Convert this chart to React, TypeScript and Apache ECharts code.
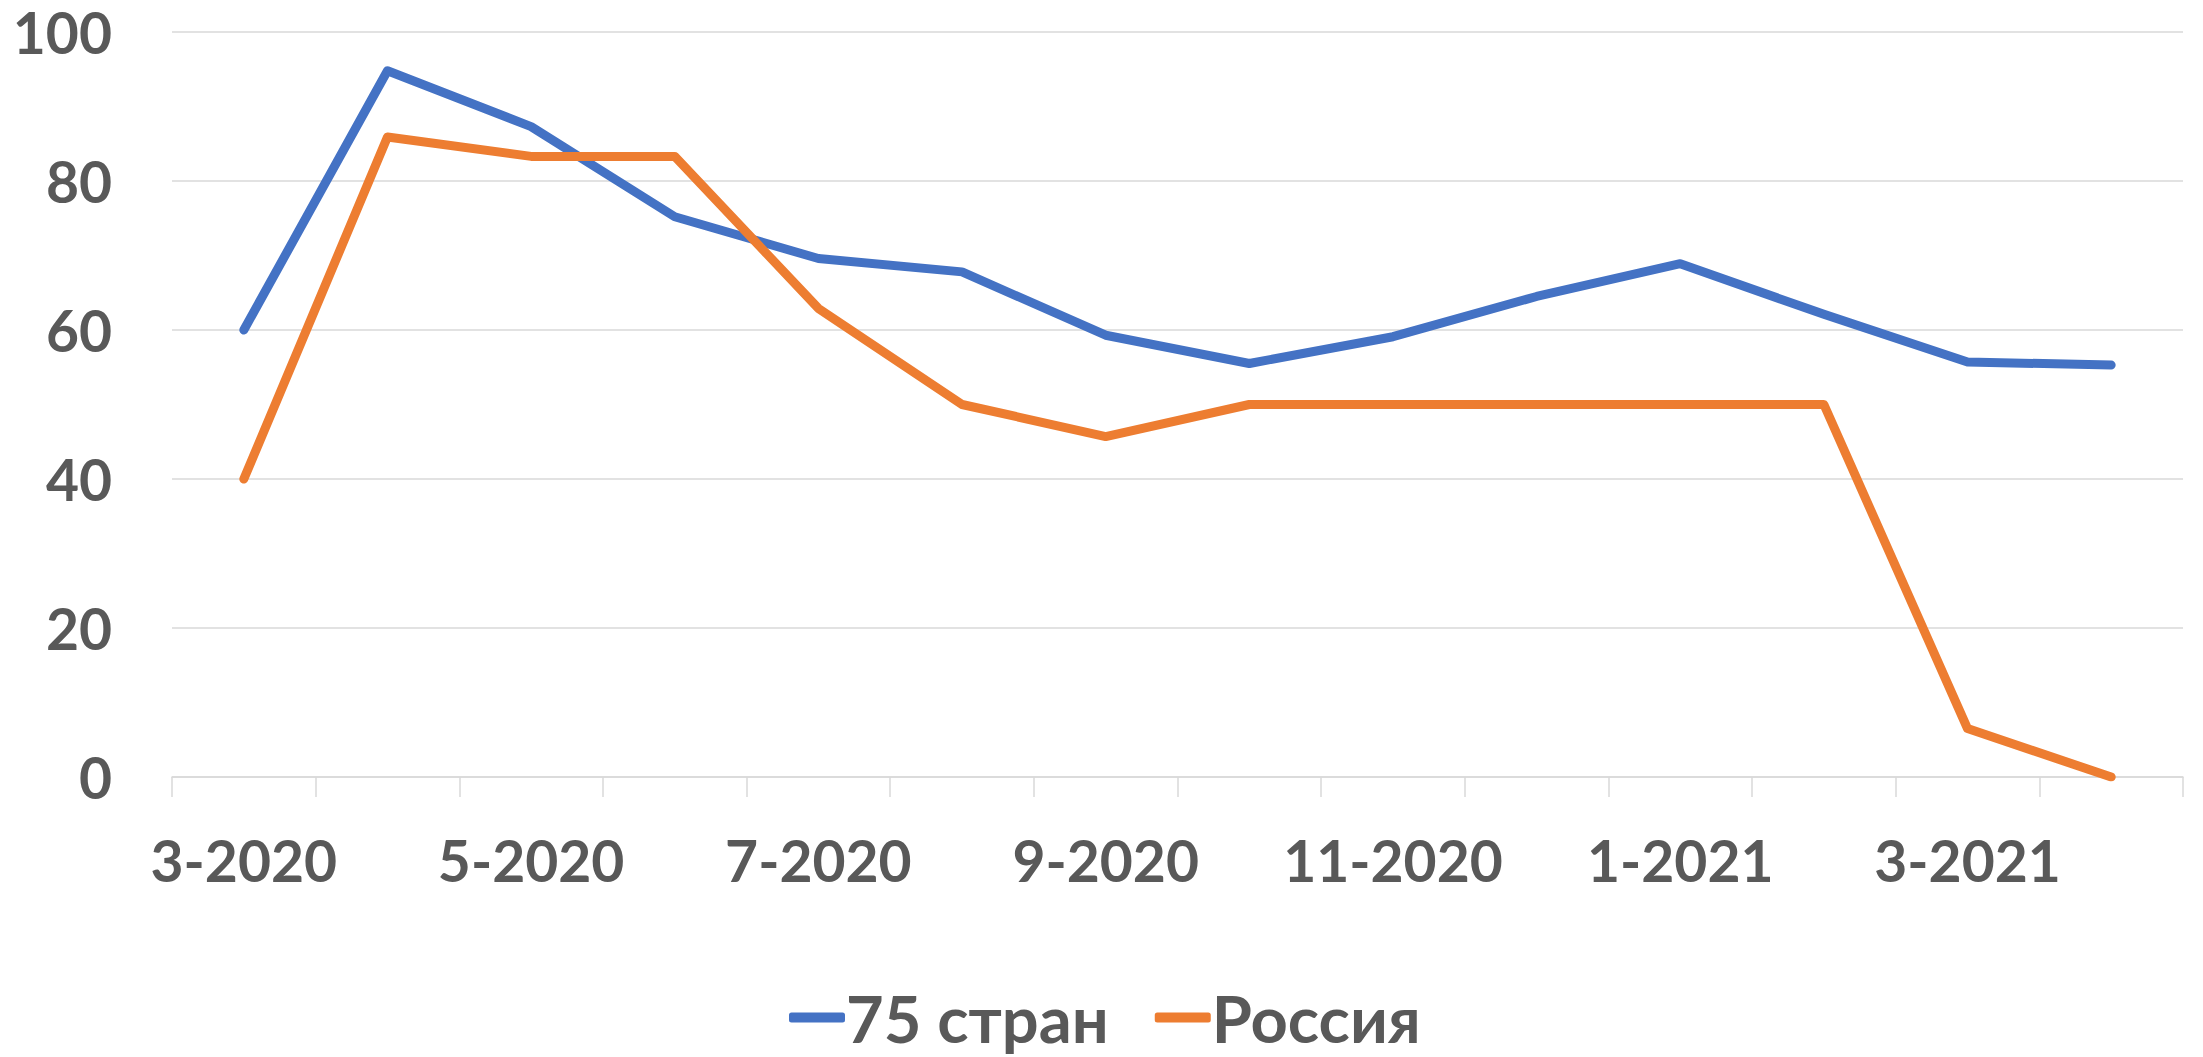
import React, { useEffect, useRef } from "react";
import * as echarts from "echarts";

const categories = [
  "3-2020", "4-2020", "5-2020", "6-2020", "7-2020", "8-2020", "9-2020",
  "10-2020", "11-2020", "12-2020", "1-2021", "2-2021", "3-2021", "4-2021",
];
const countries75 = [60, 94.8, 87.3, 75.2, 69.6, 67.8, 59.3, 55.5, 59.1, 64.5, 68.9, 62.1, 55.7, 55.3];
const russia = [40, 85.9, 83.3, 83.3, 62.9, 50, 45.7, 50, 50, 50, 50, 50, 6.5, 0];
const seriesNames = ["75 стран", "Россия"];
const yTicks = { min: 0, max: 100, interval: 20 };

const FONT = "Lato, 'Open Sans', 'DejaVu Sans', sans-serif";
const LABEL_COLOR = "#595959";

export default function App() {
  const ref = useRef<HTMLDivElement>(null);
  useEffect(() => {
    if (!ref.current) return;
    const chart = echarts.init(ref.current, undefined, { renderer: "svg" });
    chart.setOption({
      animation: false,
      backgroundColor: "#ffffff",
      grid: { left: 172, right: 20, top: 32, bottom: 280, containLabel: false },
      legend: {
        data: seriesNames,
        left: 784,
        top: 980,
        icon: "roundRect",
        itemWidth: 56,
        itemHeight: 10,
        itemGap: 46,
        textStyle: {
          fontFamily: FONT,
          fontWeight: "bold",
          fontSize: 65,
          lineHeight: 65,
          color: LABEL_COLOR,
          padding: [0, 0, 0, -4],
        },
      },
      xAxis: {
        type: "category",
        data: categories,
        boundaryGap: true,
        axisLine: { show: true, lineStyle: { color: "#d9d9d9", width: 1.5 } },
        axisTick: { show: true, interval: 0, length: 20, lineStyle: { color: "#d9d9d9", width: 1.5 } },
        axisLabel: {
          interval: 1,
          margin: 54,
          fontFamily: FONT,
          fontWeight: "bold",
          fontSize: 57,
          lineHeight: 57,
          color: LABEL_COLOR,
        },
        splitLine: { show: false },
      },
      yAxis: {
        type: "value",
        min: yTicks.min,
        max: yTicks.max,
        interval: yTicks.interval,
        axisLine: { show: false },
        axisTick: { show: false },
        axisLabel: {
          margin: 60,
          fontFamily: FONT,
          fontWeight: "bold",
          fontSize: 57,
          lineHeight: 50,
          color: LABEL_COLOR,
        },
        splitLine: { lineStyle: { color: "#d9d9d9", width: 1.5 } },
      },
      series: [
        {
          name: seriesNames[0],
          type: "line",
          data: countries75,
          showSymbol: false,
          symbol: "none",
          color: "#4472C4",
          lineStyle: { color: "#4472C4", width: 9, cap: "round", join: "round" },
        },
        {
          name: seriesNames[1],
          type: "line",
          data: russia,
          showSymbol: false,
          symbol: "none",
          color: "#ED7D31",
          lineStyle: { color: "#ED7D31", width: 9, cap: "round", join: "round" },
        },
      ],
    });
    return () => chart.dispose();
  }, []);
  return (
    <div
      ref={ref}
      style={{ position: "fixed", left: 0, top: 0, width: 2203, height: 1057 }}
    />
  );
}
